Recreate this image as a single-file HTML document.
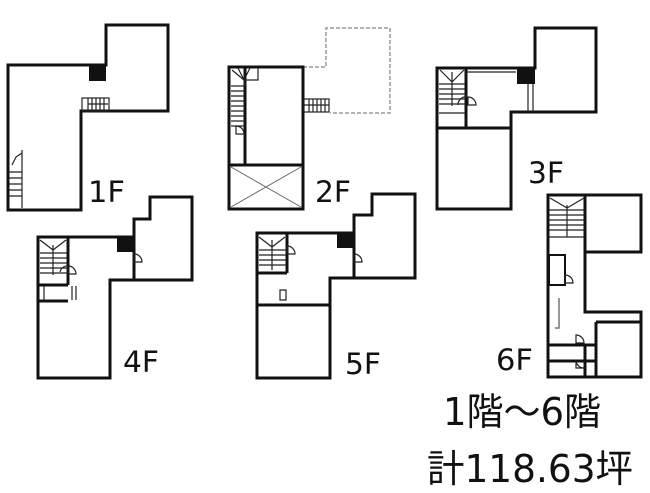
<!DOCTYPE html>
<html><head><meta charset="utf-8"><style>
html,body{margin:0;padding:0;background:#fff;width:650px;height:493px;overflow:hidden}
svg{display:block}
.w{fill:none;stroke:#111;stroke-width:3;stroke-linejoin:miter}
.t{fill:none;stroke:#222;stroke-width:1.2}
.l{font-family:"DejaVu Sans","Liberation Sans",sans-serif;font-size:29px;fill:#111}
.j{font-family:"DejaVu Sans","Noto Sans CJK JP",sans-serif;font-size:38px;fill:#111}
</style></head><body>
<svg width="650" height="493" viewBox="0 0 650 493">
<!-- 1F -->
<polygon class="w" points="8,65 106,65 106,25 168,25 168,111 81,111 81,210 8,210"/>
<rect x="89" y="65" width="17" height="16" fill="#111"/>
<rect class="t" x="82" y="98" width="27" height="13"/>
<path class="t" d="M88,98v13M92,98v13M96,98v13M100,98v13M104,98v13M88,104h20"/>
<path class="t" d="M22,150v58M9,172h13M9,178h13M9,184h13M9,190h13M9,196h13M12,165l4,-8 6,-4"/>
<text class="l" x="88" y="202" textLength="37" lengthAdjust="spacingAndGlyphs">1F</text>
<!-- 2F -->
<polyline points="303,67 326,67 326,28 390,28 390,113 330,113" fill="none" stroke="#999" stroke-width="1.5" stroke-dasharray="4,2"/>
<rect class="w" x="229" y="67" width="74" height="142"/>
<path class="w" d="M245,67v98M229,165h74"/>
<path d="M231,167L301,207M301,167L231,207" stroke="#666" stroke-width="1"/>
<path class="t" d="M231,86h14M231,91h14M231,96h14M231,101h14M231,106h14M231,111h14M231,116h14M231,121h14M231,126h14M245,86v-6h13v-13M232,70l12,10M238,68l6,12M250,68l-6,12"/>
<path class="t" d="M236,126a8,8 0 0 1 8,8h-8z"/>
<rect class="t" x="304" y="99" width="25" height="13"/>
<path class="t" d="M309,99v13M313,99v13M317,99v13M321,99v13M325,99v13M304,105h25"/>
<text class="l" x="315" y="202" textLength="36" lengthAdjust="spacingAndGlyphs">2F</text>
<!-- 3F -->
<polygon class="w" points="437,68 535,68 535,28 596,28 596,112 511,112 511,209 437,209"/>
<path class="w" d="M437,128h74M466,68v60"/>
<rect x="517" y="68" width="18" height="16" fill="#111"/>
<path class="t" d="M528,84v28M533,84v28M466,72h50M439,84h26M439,89h26M439,94h26M439,99h26M439,104h26M439,113h26M452,72v34M440,70l12,12M452,82l12,-12"/>
<path class="t" d="M458,105a8,8 0 0 1 10,-8M468,97a8,8 0 0 1 8,8h-8z"/>
<text class="l" x="528" y="183" textLength="36" lengthAdjust="spacingAndGlyphs">3F</text>
<!-- 4F -->
<polygon class="w" points="38,237 134,237 134,219 150,219 150,197 192,197 192,280 110,280 110,378 38,378"/>
<path class="w" d="M134,237v43M38,285h30M68,237v48M38,301h30"/>
<rect x="117" y="237" width="17" height="15" fill="#111"/>
<path class="t" d="M40,253h27M40,258h27M40,263h27M40,268h27M40,273h27M53,245v30M40,240l13,10M66,240l-13,10M44,285v16M72,286v14M76,286v14"/>
<path class="t" d="M134,254a8,8 0 0 1 8,8h-8zM60,272a8,8 0 0 1 10,-6M68,266a8,8 0 0 1 8,8h-8z"/>
<text class="l" x="123" y="372" textLength="36" lengthAdjust="spacingAndGlyphs">4F</text>
<!-- 5F -->
<polygon class="w" points="257,233 354,233 354,215 372,215 372,194 415,194 415,278 330,278 330,378 257,378"/>
<path class="w" d="M354,233v45M257,305h73M287,233v40M257,273h30"/>
<rect x="337" y="233" width="17" height="15" fill="#111"/>
<path class="t" d="M259,250h27M259,255h27M259,260h27M259,265h27M272,240v30M259,237l13,10M285,237l-13,10M280,290h6v10h-6z"/>
<path class="t" d="M354,254a8,8 0 0 1 8,8h-8zM287,246a8,8 0 0 1 8,8h-8z"/>
<text class="l" x="345" y="374" textLength="36" lengthAdjust="spacingAndGlyphs">5F</text>
<!-- 6F -->
<polygon class="w" points="548,195 641,195 641,252 585,252 585,312 641,312 641,377 548,377"/>
<path class="w" d="M585,195v57M596,322v55M596,322h45M548,345h48M548,361h48M585,345v32"/>
<path class="t" d="M549,237h36M549,210h36M549,215h36M549,220h36M549,225h36M549,230h36M567,205v32M550,198l17,10M584,198l-17,10"/>
<rect class="w" x="549" y="255" width="16" height="30" style="stroke-width:2"/>
<path class="t" d="M565,275a8,8 0 0 1 8,8h-8zM576,335a8,8 0 0 1 8,8h-8zM576,360a8,8 0 0 0 8,8h-8z"/>
<path d="M559,298v30h-4" stroke="#777" stroke-width="1.5" fill="none"/>
<text class="l" x="496" y="370" textLength="37" lengthAdjust="spacingAndGlyphs">6F</text>
<!-- totals -->
<text class="j" x="443" y="425" textLength="158" lengthAdjust="spacingAndGlyphs">1階～6階</text>
<text class="j" x="427" y="482" textLength="206" lengthAdjust="spacingAndGlyphs">計118.63坪</text>
</svg>
</body></html>
